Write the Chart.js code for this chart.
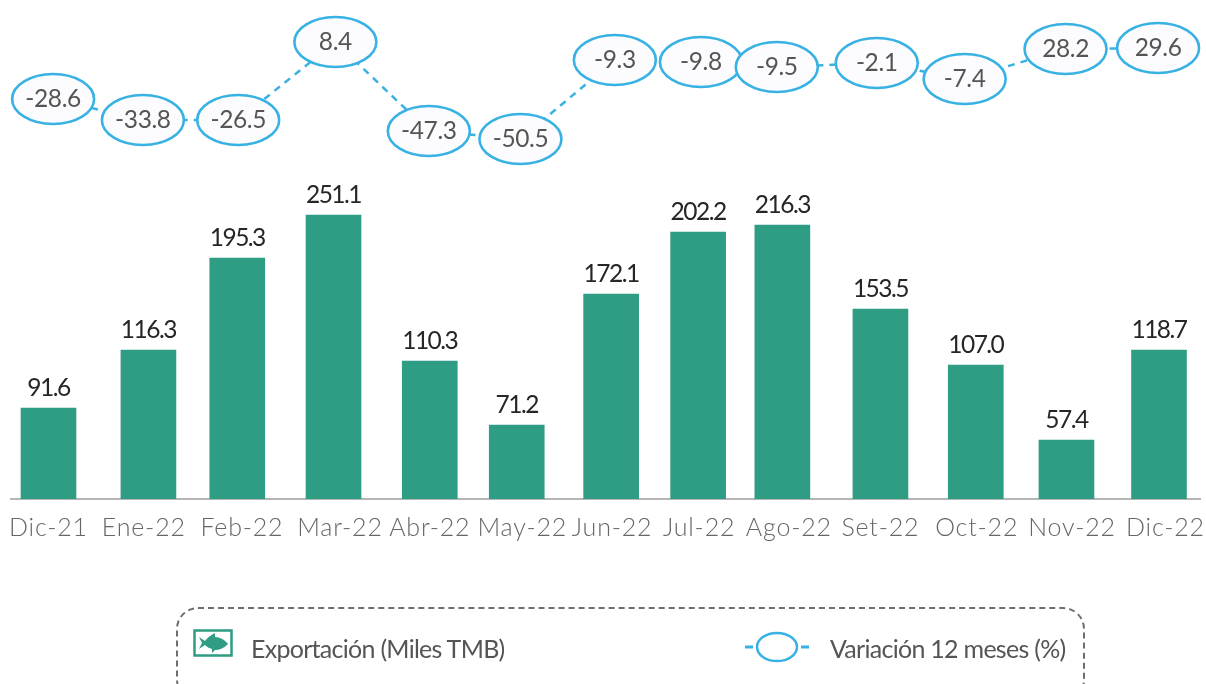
<!DOCTYPE html>
<html><head><meta charset="utf-8">
<style>
html,body{margin:0;padding:0;background:#fff;width:1206px;height:684px;overflow:hidden}
#wrap{position:relative;width:1206px;height:684px;overflow:hidden}
canvas{position:absolute;left:0;top:0}
#box{position:absolute;left:176px;top:607px;width:909px;height:95px;box-sizing:border-box;border:2px dashed #6e6e6e;border-radius:22px}
.lg{position:absolute;font-family:Lato,sans-serif;font-size:25px;color:#555;white-space:nowrap;line-height:30px;letter-spacing:-.72px}
svg{position:absolute}
</style>
<script src="https://cdn.jsdelivr.net/npm/chart.js@4/dist/chart.umd.min.js"></script>
</head><body><div id="wrap">
<canvas id="c" width="1206" height="684"></canvas>
<div id="box"></div>
<svg style="left:193px;top:629px" width="40" height="28" viewBox="0 0 40 28">
<rect x="1.5" y="1.5" width="37" height="25" fill="#fff" stroke="#2f9c84" stroke-width="2.5"/>
<path d="M6 8 L12 12 C16 7 20 5 22 4 L22 8 C27 8 32 11 35 15 C31 19 27 21 22 21 L19 24 L19 20 C16 19 14 18 12 16 L6 20 L9 14 Z" fill="#2f9c84"/>
</svg>
<div class="lg" id="t1" style="left:251px;top:633px">Exportación (Miles TMB)</div>
<svg style="left:744px;top:630px" width="66" height="34" viewBox="0 0 66 34">
<path d="M1 17 H9 M57 17 H65" stroke="#38b1e3" stroke-width="3"/>
<ellipse cx="33" cy="17" rx="20" ry="14" fill="#fff" stroke="#38b1e3" stroke-width="2.5"/>
</svg>
<div class="lg" id="t2" style="left:830px;top:633px">Variación 12 meses (%)</div>
</div>
<script>
// Categories and tick labels
const months = ["Dic-21","Ene-22","Feb-22","Mar-22","Abr-22","May-22","Jun-22","Jul-22","Ago-22","Set-22","Oct-22","Nov-22","Dic-22"];
// Printed values
const exportLabels = ["91.6","116.3","195.3","251.1","110.3","71.2","172.1","202.2","216.3","153.5","107.0","57.4","118.7"];
const variationLabels = ["-28.6","-33.8","-26.5","8.4","-47.3","-50.5","-9.3","-9.8","-9.5","-2.1","-7.4","28.2","29.6"];
// The source picture is not drawn to scale: levels below are read off the picture itself
const exportLevels = [91,149,241,284,138,74,205,267,274,190,134,59,149];
const variationLevels = [400,379,379,457,368,360,439,437,432,436,420,450,451];
// Irregular month spacing
const barSlots = [0,1.08,2.04,3.08,4.12,5.06,6.08,7.02,7.93,8.99,10.02,11,12];
const tickSlots = [0,1.03,2.09,3.15,4.12,5.12,6.09,7.03,8,8.99,10.03,11.06,12.07];
const ovalSlots = [0.05,1.02,2.05,3.1,4.11,5.1,6.12,7.05,7.87,8.95,9.9,10.99,11.99];

const zip = (xs, ys) => xs.map((x, i) => ({x, y: ys[i]}));
const textPlugin = {
  id: 'marks',
  beforeDraw(chart) { chart.ctx.letterSpacing = '0.8px'; },
  afterDatasetsDraw(chart) {
    const ctx = chart.ctx;
    ctx.save();
    ctx.textAlign = 'center';
    ctx.textBaseline = 'middle';
    ctx.letterSpacing = '-0.4px';
    chart.getDatasetMeta(1).data.forEach((p, i) => {
      ctx.beginPath();
      ctx.ellipse(p.x, p.y, 41, 25, 0, 0, Math.PI * 2);
      ctx.fillStyle = '#fcfcfe';
      ctx.fill();
      ctx.lineWidth = 2.6;
      ctx.strokeStyle = '#38b1e3';
      ctx.stroke();
      ctx.fillStyle = '#555555';
      ctx.font = '24.5px Lato, sans-serif';
      ctx.fillText(variationLabels[i], p.x, p.y);
    });
    ctx.letterSpacing = '-1.5px';
    chart.getDatasetMeta(0).data.forEach((b, i) => {
      ctx.fillStyle = '#262626';
      ctx.font = '24.5px Lato, sans-serif';
      ctx.fillText(exportLabels[i], b.x, b.y - 20);
    });
    ctx.restore();
  }
};
new Chart(document.getElementById('c'), {
  data: {
    datasets: [
      {type:'bar', label:'Exportación (Miles TMB)', data: zip(barSlots, exportLevels), backgroundColor:'#2f9c84', barThickness:55, yAxisID:'y', order:2},
      {type:'line', label:'Variación 12 meses (%)', data: zip(ovalSlots, variationLevels), borderColor:'#38b1e3', borderWidth:2.5, borderDash:[7,6], pointRadius:0, tension:0, yAxisID:'y2', order:1}
    ]
  },
  options: {
    responsive:false, animation:false, devicePixelRatio:1,
    layout:{padding:{left:11,right:6,top:0,bottom:0}},
    plugins:{legend:{display:false},tooltip:{enabled:false}},
    scales:{
      x:{type:'linear',min:-0.405,max:12.443,offset:false,bounds:'data',
        grid:{display:false,drawTicks:false},
        border:{display:true,color:'#b5b5b5',width:2},
        afterBuildTicks(s){s.ticks = tickSlots.map(value=>({value}));},
        afterFit(s){s.height = 185; s.paddingLeft = 0; s.paddingRight = 0;},
        ticks:{autoSkip:false,maxRotation:0,padding:14,color:'#666',font:{family:'Lato, sans-serif',size:25,weight:'300'},
          callback(v,i){return months[i];}}
      },
      y:{display:false,min:0,max:499},
      y2:{display:false,min:0,max:499}
    }
  },
  plugins:[textPlugin]
});
</script></body></html>
